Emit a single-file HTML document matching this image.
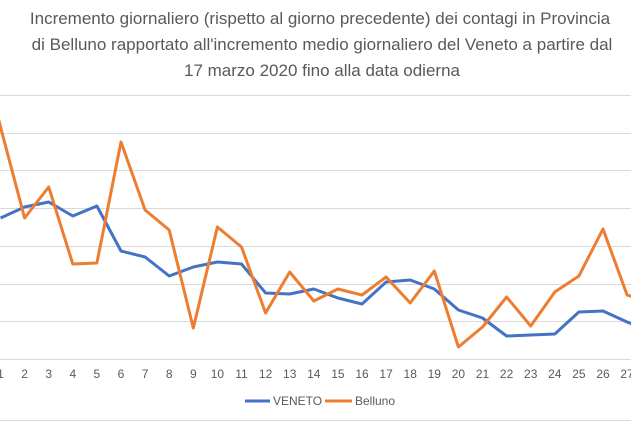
<!DOCTYPE html>
<html><head><meta charset="utf-8"><style>
body{margin:0;background:#fff;}
svg{display:block;font-family:"Liberation Sans",sans-serif;}
</style></head><body>
<svg width="631" height="421" viewBox="0 0 631 421">
<rect width="631" height="421" fill="#fff"/>
<g fill="#595959" font-size="17" text-anchor="middle">
<text x="320" y="24">Incremento giornaliero  (rispetto al giorno precedente) dei contagi in Provincia</text>
<text x="322" y="50">di Belluno rapportato all'incremento medio giornaliero del Veneto a partire dal</text>
<text x="322" y="76">17 marzo 2020 fino alla data odierna</text>
</g>
<g stroke="#d9d9d9" stroke-width="1">
<line x1="0" x2="631" y1="95.5" y2="95.5"/><line x1="0" x2="631" y1="133.5" y2="133.5"/>
<line x1="0" x2="631" y1="170.5" y2="170.5"/><line x1="0" x2="631" y1="208.5" y2="208.5"/>
<line x1="0" x2="631" y1="246.5" y2="246.5"/><line x1="0" x2="631" y1="284.5" y2="284.5"/>
<line x1="0" x2="631" y1="321.5" y2="321.5"/><line x1="0" x2="631" y1="359.5" y2="359.5"/>
<line x1="0" x2="631" y1="420.5" y2="420.5"/>
</g>
<g fill="#595959" font-size="12" text-anchor="middle">
<text x="0.5" y="378">1</text><text x="24.6" y="378">2</text><text x="48.7" y="378">3</text><text x="72.8" y="378">4</text><text x="96.9" y="378">5</text><text x="121" y="378">6</text><text x="145.1" y="378">7</text><text x="169.2" y="378">8</text><text x="193.3" y="378">9</text><text x="217.4" y="378">10</text><text x="241.5" y="378">11</text><text x="265.6" y="378">12</text><text x="289.7" y="378">13</text><text x="313.8" y="378">14</text><text x="337.9" y="378">15</text><text x="362" y="378">16</text><text x="386.1" y="378">17</text><text x="410.2" y="378">18</text><text x="434.3" y="378">19</text><text x="458.4" y="378">20</text><text x="482.5" y="378">21</text><text x="506.6" y="378">22</text><text x="530.7" y="378">23</text><text x="554.8" y="378">24</text><text x="578.9" y="378">25</text><text x="603" y="378">26</text><text x="627.1" y="378">27</text>
</g>
<polyline fill="none" stroke="#4472c4" stroke-width="3" stroke-linejoin="round" points="0.5,218 24.6,207 48.7,202 72.8,216 96.9,206 121,251 145.1,257 169.2,276 193.3,267 217.4,262 241.5,264 265.6,293 289.7,294 313.8,289 337.9,298 362,304 386.1,282 410.2,280 434.3,289 458.4,310 482.5,318 506.6,336 530.7,335 554.8,334 578.9,312 603,311 627.1,322 640,327"/>
<polyline fill="none" stroke="#ed7d31" stroke-width="3" stroke-linejoin="round" points="-5,105 0.5,127 24.6,218 48.7,187 72.8,264 96.9,263 121,142 145.1,210 169.2,230 193.3,328 217.4,227 241.5,247 265.6,313 289.7,272 313.8,301 337.9,289 362,295 386.1,277 410.2,303 434.3,271 458.4,347 482.5,327 506.6,297 530.7,326 554.8,292 578.9,276 603,229 627.1,295 640,299"/>
<line x1="245" x2="270" y1="401" y2="401" stroke="#4472c4" stroke-width="3"/>
<text x="273" y="405" fill="#595959" font-size="12">VENETO</text>
<line x1="325" x2="352" y1="401" y2="401" stroke="#ed7d31" stroke-width="3"/>
<text x="355" y="405" fill="#595959" font-size="12">Belluno</text>
</svg>
</body></html>
